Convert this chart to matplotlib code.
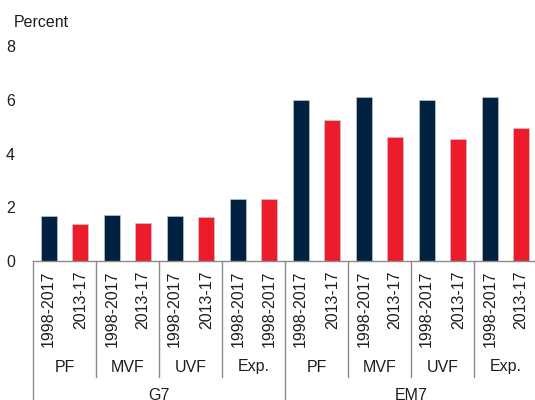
import matplotlib
matplotlib.use("Agg")
import matplotlib.pyplot as plt
import matplotlib.transforms as mtransforms
import numpy as np

plt.rcParams['font.family'] = ['Liberation Sans', 'DejaVu Sans']

groups = ["G7", "EM7"]
measures = ["PF", "MVF", "UVF", "Exp."]
period_labels = [
    "1998-2017", "2013-17", "1998-2017", "2013-17",
    "1998-2017", "2013-17", "1998-2017", "1998-2017",
    "1998-2017", "2013-17", "1998-2017", "2013-17",
    "1998-2017", "2013-17", "1998-2017", "2013-17",
]
values = [
    1.69, 1.38, 1.72, 1.40, 1.66, 1.64, 2.30, 2.30,
    5.98, 5.25, 6.12, 4.61, 5.98, 4.53, 6.11, 4.96,
]
yticks = [0, 2, 4, 6, 8]

NAVY = "#00213F"
RED = "#EC1C2D"
GREY = "#8C8C8C"
TEXT = "#1e1e1e"
FS = 11.5

W, H = 535, 400
fig = plt.figure(figsize=(W / 100, H / 100), dpi=100)
ax = fig.add_axes([33 / W, (H - 261) / H, 504 / W, (261 - 46) / H])

x = np.arange(len(values))
colors = [NAVY if i % 2 == 0 else RED for i in range(len(values))]
ax.bar(x, values, width=0.5, color=colors, edgecolor="#c8d0dc", linewidth=0.4)

ax.set_xlim(-0.5, len(values) - 0.5)
ax.set_ylim(0, 8)
ax.set_yticks(yticks)
ax.set_yticklabels([str(t) for t in yticks], fontsize=FS, color=TEXT)
ax.tick_params(axis="y", length=0, pad=13)
ax.set_xticks(x)
ax.set_xticklabels(period_labels, rotation=90, fontsize=FS, color=TEXT,
                   va="top", ha="center")
ax.tick_params(axis="x", length=0, pad=7)

for s in ["left", "right", "top"]:
    ax.spines[s].set_visible(False)
ax.spines["bottom"].set_color(GREY)
ax.spines["bottom"].set_linewidth(1.0)

fig.text(14 / W, (H - 27) / H, "Percent", fontsize=FS, color=TEXT,
         ha="left", va="baseline")

trans = mtransforms.blended_transform_factory(ax.transData, fig.transFigure)

def fy(py):
    return (H - py) / H

# separators between measure pairs and groups
for k in range(len(values) // 2 + 1):
    xs = -0.5 + 2 * k
    long_line = k % 4 == 0
    y_end = 0 if long_line else fy(377)
    ax.plot([xs, xs], [fy(261), y_end], transform=trans, color=GREY,
            linewidth=1.0, clip_on=False)

# measure labels
for gi, g in enumerate(groups):
    for mi, m in enumerate(measures):
        xc = gi * 8 + mi * 2 + 0.5
        ax.text(xc, fy(367), m, transform=trans, fontsize=FS, color=TEXT,
                ha="center", va="center")
    ax.text(gi * 8 + 3.5, fy(396), g, transform=trans, fontsize=FS,
            color=TEXT, ha="center", va="center")

fig.savefig("out.png", dpi=100)
